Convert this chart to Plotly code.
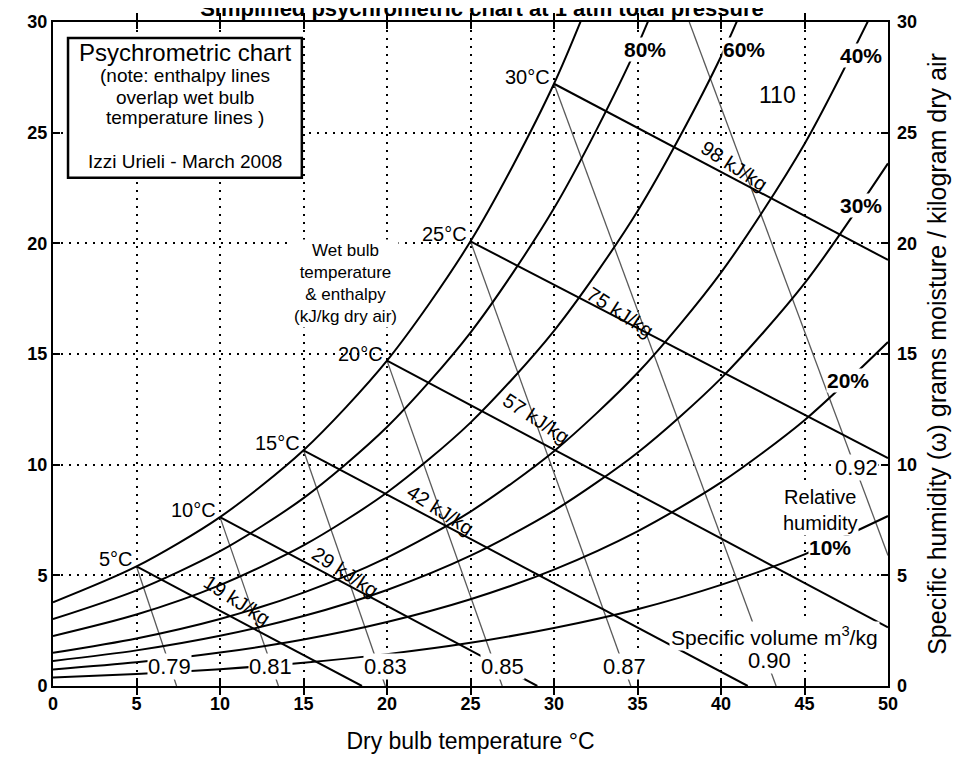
import plotly.graph_objects as go

# ---------------- data ----------------
temps = [0, 5, 10, 15, 20, 25, 30, 35, 40, 45, 50]          # dry bulb, deg C

# humidity ratio (g/kg dry air) along each relative-humidity curve
rh_labels = ["100%", "80%", "60%", "40%", "30%", "20%", "10%"]
w_rh100 = [3.78, 5.40, 7.63, 10.65, 14.70, 20.09, 27.21, 36.58]
w_rh80 = [3.02, 4.32, 6.09, 8.49, 11.70, 15.97, 21.58, 28.93, 38.51]
w_rh60 = [2.26, 3.23, 4.56, 6.35, 8.74, 11.90, 16.05, 21.45, 28.44, 37.47]
w_rh40 = [1.50, 2.15, 3.03, 4.22, 5.80, 7.88, 10.61, 14.14, 18.68, 24.49, 31.88]
w_rh30 = [1.13, 1.61, 2.27, 3.16, 4.34, 5.89, 7.92, 10.54, 13.90, 18.19, 23.61]
w_rh20 = [0.75, 1.07, 1.51, 2.10, 2.89, 3.92, 5.26, 6.99, 9.20, 12.01, 15.54]
w_rh10 = [0.38, 0.54, 0.76, 1.05, 1.44, 1.95, 2.62, 3.47, 4.57, 5.95, 7.68]
rh_curves = [w_rh100, w_rh80, w_rh60, w_rh40, w_rh30, w_rh20, w_rh10]

# wet bulb / enthalpy lines
wb_temps = [5, 10, 15, 20, 25, 30]
wb_start_w = [5.40, 7.63, 10.65, 14.70, 20.09, 27.21]
wb_end_t = [18.5, 29.0, 41.6, 50, 50, 50]
wb_end_w = [0, 0, 0, 2.65, 10.3, 19.25]
wb_labels = ["5°C", "10°C", "15°C", "20°C", "25°C", "30°C"]
h_labels = ["19 kJ/kg", "29 kJ/kg", "42 kJ/kg", "57 kJ/kg", "75 kJ/kg", "98 kJ/kg"]
h_label_t = [11.0, 17.5, 23.2, 28.9, 33.95, 40.8]
h_label_w = [3.9, 5.15, 7.95, 12.1, 16.9, 23.5]

# specific volume lines
sv_labels = ["0.79", "0.81", "0.83", "0.85", "0.87", "0.90", "0.92"]
sv_start_t = [5, 10, 15, 20, 25, 30, 38.1]
sv_start_w = [5.40, 7.63, 10.65, 14.70, 20.09, 27.21, 30]
sv_end_t = [7.4, 13.5, 19.9, 26.9, 34.6, 43.3, 50]
sv_end_w = [0, 0, 0, 0, 0, 0, 5.9]
sv_label_t = [7.0, 13.0, 19.9, 26.9, 34.25, 42.9, 48.1]
sv_label_w = [0.9, 0.9, 0.9, 0.9, 0.9, 1.17, 9.85]

# RH label positions
rh_label_text = ["80%", "60%", "40%", "30%", "20%", "10%"]
rh_label_t = [35.45, 41.4, 48.4, 48.4, 47.6, 46.5]
rh_label_w = [28.74, 28.74, 28.5, 21.7, 13.8, 6.24]

# info box text lines
box_lines = ["Psychrometric chart", "(note: enthalpy lines", "overlap wet bulb",
             "temperature lines )", "Izzi Urieli - March 2008"]
box_line_w = [28.6, 27.6, 26.6, 25.7, 23.68]
box_line_size = [24, 19, 19, 19, 19]

x_ticks = [0, 5, 10, 15, 20, 25, 30, 35, 40, 45, 50]
y_ticks = [0, 5, 10, 15, 20, 25, 30]

FONT = "Liberation Sans, Arial, sans-serif"

fig = go.Figure()

# specific volume lines (thin grey)
for i in range(len(sv_labels)):
    fig.add_trace(go.Scatter(x=[sv_start_t[i], sv_end_t[i]], y=[sv_start_w[i], sv_end_w[i]],
                             mode="lines", line=dict(color="#5a5a5a", width=1.3),
                             hoverinfo="skip", showlegend=False))

# relative humidity curves
for w in rh_curves:
    fig.add_trace(go.Scatter(x=temps[:len(w)], y=w, mode="lines",
                             line=dict(color="black", width=2, shape="spline", smoothing=0.8),
                             hoverinfo="skip", showlegend=False))

# wet bulb / enthalpy lines
for i in range(len(wb_temps)):
    fig.add_trace(go.Scatter(x=[wb_temps[i], wb_end_t[i]], y=[wb_start_w[i], wb_end_w[i]],
                             mode="lines", line=dict(color="black", width=2),
                             hoverinfo="skip", showlegend=False))

# invisible trace for the right-hand axis
fig.add_trace(go.Scatter(x=[0, 50], y=[0, 30], yaxis="y2", mode="markers",
                         marker=dict(opacity=0), hoverinfo="skip", showlegend=False))

ann = []
tf = dict(family=FONT, size=20, color="black")

for i in range(len(wb_labels)):
    ann.append(dict(x=wb_temps[i], y=wb_start_w[i], xref="x", yref="y", text=wb_labels[i],
                    showarrow=False, xanchor="right", yanchor="middle", xshift=-2, yshift=7,
                    font=tf))
for i in range(len(h_labels)):
    ann.append(dict(x=h_label_t[i], y=h_label_w[i], xref="x", yref="y", text=h_labels[i],
                    showarrow=False, textangle=33, font=tf))
for i in range(len(sv_labels)):
    ann.append(dict(x=sv_label_t[i], y=sv_label_w[i], xref="x", yref="y", text=sv_labels[i],
                    showarrow=False, bgcolor="white", font=dict(family=FONT, size=22, color="black"),
                    borderpad=0))
for i in range(len(rh_label_text)):
    ann.append(dict(x=rh_label_t[i], y=rh_label_w[i], xref="x", yref="y", text=rh_label_text[i],
                    showarrow=False, bgcolor="white",
                    font=dict(family=FONT, size=21, color="black", weight="bold"),
                    borderpad=0))

ann.append(dict(x=45.9, y=7.95, xref="x", yref="y", text="Relative<br>humidity",
                showarrow=False, bgcolor="white", font=dict(family=FONT, size=20, color="black")))
ann.append(dict(x=43.2, y=2.26, xref="x", yref="y", text="Specific volume m<sup>3</sup>/kg",
                showarrow=False, bgcolor="white", font=dict(family=FONT, size=21, color="black")))
ann.append(dict(x=43.4, y=26.7, xref="x", yref="y", text="110",
                showarrow=False, font=dict(family=FONT, size=23, color="black")))
ann.append(dict(x=17.5, y=18.2, xref="x", yref="y",
                text="Wet bulb<br>temperature<br>& enthalpy<br>(kJ/kg dry air)",
                showarrow=False, bgcolor="white", font=dict(family=FONT, size=17, color="black")))
for i in range(len(box_lines)):
    ann.append(dict(x=7.9, y=box_line_w[i], xref="x", yref="y", text=box_lines[i],
                    showarrow=False, font=dict(family=FONT, size=box_line_size[i], color="black")))

shapes = [dict(type="rect", xref="x", yref="y", x0=0.9, x1=14.9, y0=22.96, y1=29.28,
               line=dict(color="black", width=2.5), fillcolor="white", layer="above")]

axis_common = dict(range=[0, 50], tickvals=x_ticks, showgrid=True, gridcolor="black",
                   griddash="2px,6px", gridwidth=1.6, showline=True, linecolor="black", linewidth=2,
                   mirror="allticks", ticks="inside", ticklen=7, tickcolor="black", tickwidth=1.5,
                   zeroline=False, automargin=False,
                   tickfont=dict(family=FONT, size=18, color="black", weight="bold"))

fig.update_layout(
    width=948, height=749,
    margin=dict(l=45, r=68, t=14, b=71, autoexpand=False),
    paper_bgcolor="white", plot_bgcolor="white",
    title=dict(text="Simplified psychrometric chart at 1 atm total pressure",
               x=0.5, xanchor="center", y=1.0, yanchor="middle", yref="container",
               font=dict(family=FONT, size=22, color="black", weight="bold")),
    xaxis=dict(axis_common,
               title=dict(text="Dry bulb temperature °C", standoff=20,
                          font=dict(family=FONT, size=23, color="black"))),
    yaxis=dict(axis_common, range=[0, 30], tickvals=y_ticks),
    yaxis2=dict(range=[0, 30], tickvals=y_ticks, overlaying="y", side="right",
                showgrid=False, showline=False, ticks="", zeroline=False, automargin=False,
                ticklabelstandoff=8,
                tickfont=dict(family=FONT, size=18, color="black", weight="bold"),
                title=dict(text="Specific humidity (ω) grams moisture / kilogram dry air", standoff=12,
                           font=dict(family=FONT, size=25, color="black"))),
    annotations=ann,
    shapes=shapes,
    showlegend=False,
)

fig.write_html("out.html")
